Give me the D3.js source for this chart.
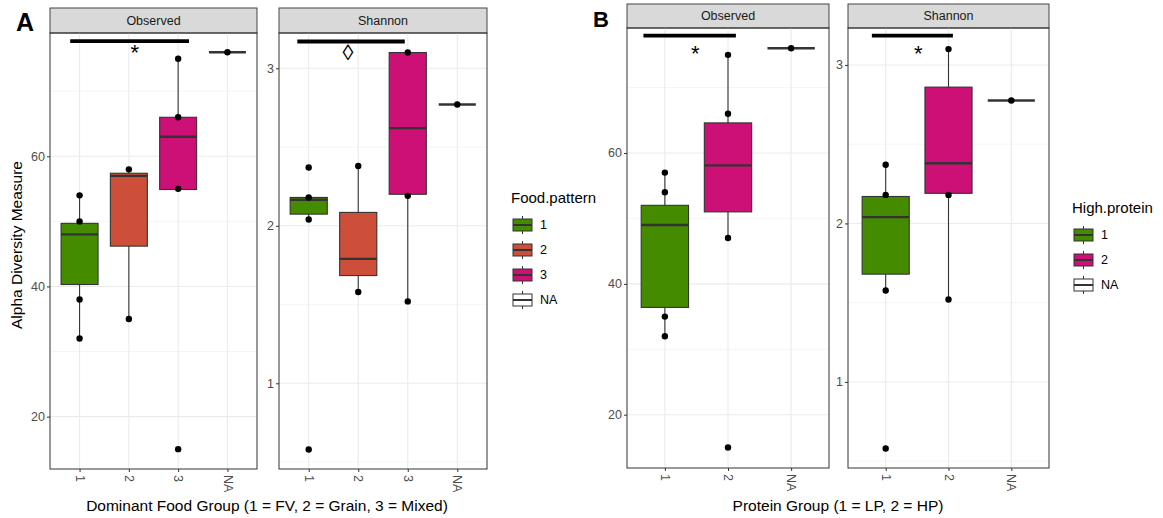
<!DOCTYPE html>
<meta charset="utf-8">
<title>Alpha diversity by food and protein group</title>
<script src="https://d3js.org/d3.v7.min.js"></script>
<style>
body {margin: 0; background: #fff;}
svg text {font-family: "Liberation Sans", Arial, sans-serif;}
</style>
<body>
<div id="chart"></div>
<script>
// categories
var foodGroups = ["1", "2", "3", "NA"];
var proteinGroups = ["1", "2", "NA"];
var foodColors = ["#458B00", "#CD4F39", "#CD1076", "#FFFFFF"];
var proteinColors = ["#458B00", "#CD1076", "#FFFFFF"];

// box stats per group: [lower whisker, q1, median, q3, upper whisker]
var foodObservedBoxes = [[32, 40.3, 48, 49.7, 54], [35, 46.2, 57, 57.4, 58], [54.9, 54.9, 63, 66, 75], [76, 76, 76, 76, 76]];
var foodObservedPoints = [[54, 50, 38, 32], [58, 35], [75, 66, 55, 15], [76]];
var foodShannonBoxes = [[2.04, 2.074, 2.165, 2.18, 2.18], [1.58, 1.684, 1.79, 2.085, 2.38], [1.52, 2.2, 2.62, 3.1, 3.1], [2.77, 2.77, 2.77, 2.77, 2.77]];
var foodShannonPoints = [[2.37, 2.18, 2.04, 0.58], [2.38, 1.58], [3.1, 2.19, 1.52], [2.77]];

var proteinObservedBoxes = [[32, 36.4, 49, 52, 57], [47, 51, 58.1, 64.6, 75], [76, 76, 76, 76, 76]];
var proteinObservedPoints = [[57, 54, 35, 32], [75, 66, 47, 15], [76]];
var proteinShannonBoxes = [[1.577, 1.68, 2.04, 2.17, 2.37], [1.52, 2.19, 2.38, 2.86, 3.1], [2.776, 2.776, 2.776, 2.776, 2.776]];
var proteinShannonPoints = [[2.37, 2.18, 1.577, 0.58], [3.1, 2.18, 1.52], [2.776]];

// y ticks
var observedTicks = [20, 40, 60];
var observedMinor = [30, 50, 70];
var shannonTicks = [1, 2, 3];
var shannonMinor = [0.5, 1.5, 2.5];

// significance bars: [from, to] on the group axis, y value, label
var sigFoodObserved = {from: 0.81, to: 3.22, y: 77.7, label: "*", lx: 2.12, ly: 76.6};
var sigFoodShannon = {from: 0.77, to: 2.94, y: 3.17, label: "\u25CA", lx: 1.79, ly: 3.10};
var sigProteinObserved = {from: 0.66, to: 2.125, y: 77.95, label: "*", lx: 1.48, ly: 75.9};
var sigProteinShannon = {from: 0.78, to: 2.07, y: 3.185, label: "*", lx: 1.52, ly: 3.10};

var svg = d3.select("#chart").append("svg")
  .attr("width", 1163)
  .attr("height", 518);

var ink = "#333333";

function drawPanel(p) {
  var n = p.cats.length;
  var x = d3.scaleLinear().domain([0.4, n + 0.6]).range([p.left, p.right]);
  var y = d3.scaleLinear().domain(p.yDomain).range([p.bottom, p.top]);
  var bw = (x(1.75) - x(1)) / 2; // half box width (0.75)
  var g = svg.append("g");

  // strip
  g.append("rect")
    .attr("x", p.left).attr("y", p.stripTop)
    .attr("width", p.right - p.left).attr("height", p.top - p.stripTop)
    .attr("fill", "#d9d9d9").attr("stroke", ink).attr("stroke-width", 0.9);
  g.append("text")
    .attr("x", (p.left + p.right) / 2).attr("y", (p.stripTop + p.top) / 2)
    .attr("dy", "0.35em").attr("text-anchor", "middle")
    .attr("font-size", "12.5px").attr("fill", "#1a1a1a")
    .text(p.strip);

  // grid
  g.selectAll(".minor").data(p.minor).enter().append("line")
    .attr("x1", p.left).attr("x2", p.right)
    .attr("y1", d => y(d)).attr("y2", d => y(d))
    .attr("stroke", "#f0f0f0").attr("stroke-width", 0.7);
  g.selectAll(".major").data(p.ticks).enter().append("line")
    .attr("x1", p.left).attr("x2", p.right)
    .attr("y1", d => y(d)).attr("y2", d => y(d))
    .attr("stroke", "#ebebeb").attr("stroke-width", 1.1);
  g.selectAll(".vgrid").data(d3.range(1, n + 1)).enter().append("line")
    .attr("x1", d => x(d)).attr("x2", d => x(d))
    .attr("y1", p.top).attr("y2", p.bottom)
    .attr("stroke", "#ebebeb").attr("stroke-width", 1.1);

  // whiskers and boxes
  p.boxes.forEach(function(b, i) {
    var cx = x(i + 1);
    g.append("line").attr("x1", cx).attr("x2", cx)
      .attr("y1", y(b[0])).attr("y2", y(b[1]))
      .attr("stroke", ink).attr("stroke-width", 1.1);
    g.append("line").attr("x1", cx).attr("x2", cx)
      .attr("y1", y(b[3])).attr("y2", y(b[4]))
      .attr("stroke", ink).attr("stroke-width", 1.1);
    g.append("rect")
      .attr("x", cx - bw).attr("y", y(b[3]))
      .attr("width", bw * 2).attr("height", Math.max(0, y(b[1]) - y(b[3])))
      .attr("fill", p.colors[i]).attr("stroke", ink).attr("stroke-width", 1.1);
    g.append("line").attr("x1", cx - bw).attr("x2", cx + bw)
      .attr("y1", y(b[2])).attr("y2", y(b[2]))
      .attr("stroke", ink).attr("stroke-width", 2.4);
  });

  // points
  p.points.forEach(function(pts, i) {
    g.selectAll(null).data(pts).enter().append("circle")
      .attr("cx", x(i + 1)).attr("cy", d => y(d))
      .attr("r", 3.2).attr("fill", "#000");
  });

  // panel border
  g.append("rect")
    .attr("x", p.left).attr("y", p.top)
    .attr("width", p.right - p.left).attr("height", p.bottom - p.top)
    .attr("fill", "none").attr("stroke", ink).attr("stroke-width", 1);

  // axes
  var ya = g.append("g").attr("transform", "translate(" + p.left + ",0)")
    .call(d3.axisLeft(y).tickValues(p.ticks).tickSize(3).tickPadding(2).tickFormat(d3.format("d")));
  var xa = g.append("g").attr("transform", "translate(0," + p.bottom + ")")
    .call(d3.axisBottom(x).tickValues(d3.range(1, n + 1)).tickSize(3)
      .tickFormat(function(d) { return p.cats[d - 1]; }));
  [ya, xa].forEach(function(a) {
    a.select(".domain").remove();
    a.selectAll(".tick line").attr("stroke", ink);
    a.selectAll("text").attr("fill", "#4d4d4d").attr("font-size", "12.5px")
      .style("font-family", "'Liberation Sans', Arial, sans-serif");
  });
  xa.selectAll("text")
    .attr("transform", "rotate(90)")
    .attr("text-anchor", "start")
    .attr("x", 6).attr("y", 0).attr("dy", "0.35em");

  // significance bar
  var s = p.sig;
  g.append("line")
    .attr("x1", x(s.from)).attr("x2", x(s.to))
    .attr("y1", y(s.y)).attr("y2", y(s.y))
    .attr("stroke", "#000").attr("stroke-width", 3.8);
  g.append("text")
    .attr("x", x(s.lx)).attr("y", y(s.ly))
    .attr("dy", s.label == "*" ? 12 : 7.5)
    .attr("text-anchor", "middle")
    .attr("font-size", s.label == "*" ? "22px" : "22px")
    .attr("fill", "#000")
    .text(s.label);
}

drawPanel({cats: foodGroups, colors: foodColors, boxes: foodObservedBoxes, points: foodObservedPoints,
  strip: "Observed", left: 50, right: 257, stripTop: 8, top: 33, bottom: 469,
  yDomain: [11.95, 78.95], ticks: observedTicks, minor: observedMinor, sig: sigFoodObserved});
drawPanel({cats: foodGroups, colors: foodColors, boxes: foodShannonBoxes, points: foodShannonPoints,
  strip: "Shannon", left: 279, right: 487, stripTop: 8, top: 33, bottom: 469,
  yDomain: [0.456, 3.224], ticks: shannonTicks, minor: shannonMinor, sig: sigFoodShannon});
drawPanel({cats: proteinGroups, colors: proteinColors, boxes: proteinObservedBoxes, points: proteinObservedPoints,
  strip: "Observed", left: 627, right: 829, stripTop: 4, top: 28, bottom: 468,
  yDomain: [11.86, 79.1], ticks: observedTicks, minor: observedMinor, sig: sigProteinObserved});
drawPanel({cats: proteinGroups, colors: proteinColors, boxes: proteinShannonBoxes, points: proteinShannonPoints,
  strip: "Shannon", left: 848, right: 1049, stripTop: 4, top: 28, bottom: 468,
  yDomain: [0.457, 3.233], ticks: shannonTicks, minor: shannonMinor, sig: sigProteinShannon});

// axis titles
svg.append("text")
  .attr("transform", "translate(22,245) rotate(-90)")
  .attr("text-anchor", "middle").attr("font-size", "15.5px").attr("fill", "#000")
  .text("Alpha Diversity Measure");
svg.append("text")
  .attr("x", 267).attr("y", 511)
  .attr("text-anchor", "middle").attr("font-size", "15.5px").attr("fill", "#000")
  .text("Dominant Food Group (1 = FV, 2 = Grain, 3 = Mixed)");
svg.append("text")
  .attr("x", 838).attr("y", 511)
  .attr("text-anchor", "middle").attr("font-size", "15.5px").attr("fill", "#000")
  .text("Protein Group (1 = LP, 2 = HP)");

// panel letters
svg.append("text").attr("x", 16).attr("y", 31)
  .attr("font-size", "25px").attr("font-weight", "bold").text("A");
svg.append("text").attr("x", 593).attr("y", 27)
  .attr("font-size", "22px").attr("font-weight", "bold").text("B");

// legends
function drawLegend(title, cats, colors, left, titleY, firstY) {
  var lg = svg.append("g");
  lg.append("text").attr("x", left).attr("y", titleY)
    .attr("font-size", "15px").attr("fill", "#000").text(title);
  cats.forEach(function(c, i) {
    var cy = firstY + i * 25;
    var kx = left + 2;
    lg.append("line").attr("x1", kx + 9.5).attr("x2", kx + 9.5)
      .attr("y1", cy - 9).attr("y2", cy + 9).attr("stroke", ink).attr("stroke-width", 1);
    lg.append("rect").attr("x", kx).attr("y", cy - 6).attr("width", 19).attr("height", 12)
      .attr("fill", colors[i]).attr("stroke", ink).attr("stroke-width", 1);
    lg.append("line").attr("x1", kx).attr("x2", kx + 19)
      .attr("y1", cy).attr("y2", cy).attr("stroke", ink).attr("stroke-width", 2);
    lg.append("text").attr("x", kx + 27).attr("y", cy).attr("dy", "0.35em")
      .attr("font-size", "12.5px").attr("fill", "#000").text(c);
  });
}
drawLegend("Food.pattern", foodGroups, foodColors, 511, 203, 225);
drawLegend("High.protein", proteinGroups, proteinColors, 1072, 213, 235);
</script>
</body>
